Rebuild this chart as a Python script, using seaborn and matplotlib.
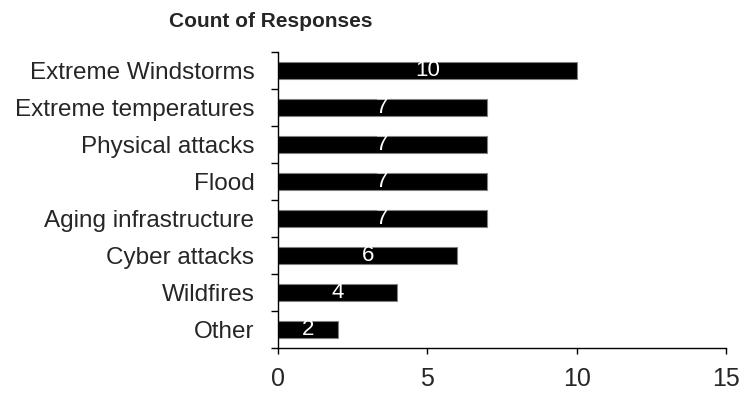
import numpy as np
import pandas as pd
import matplotlib
matplotlib.use('Agg')
import matplotlib.pyplot as plt
import seaborn as sns

# data
categories = ['Extreme Windstorms', 'Extreme temperatures', 'Physical attacks', 'Flood',
              'Aging infrastructure', 'Cyber attacks', 'Wildfires', 'Other']
counts = [10, 7, 7, 7, 7, 6, 4, 2]
x_ticks = [0, 5, 10, 15]

sns.set_style('white')
plt.rcParams['font.family'] = ['Liberation Sans', 'DejaVu Sans']

df = pd.DataFrame({'category': categories, 'count': counts})

fig = plt.figure(figsize=(7.45, 3.94), dpi=100)
ax = fig.add_axes([0.373, 0.117, 0.602, 0.751])

sns.barplot(data=df, x='count', y='category', orient='h', color='black',
            edgecolor='#808080', linewidth=0.8, width=0.44, saturation=1, ax=ax)

# white labels in the middle of each bar
for c in ax.containers:
    ax.bar_label(c, labels=[str(v) for v in counts], label_type='center',
                 color='white', fontsize=16)

ax.set_xlim(0, 15)
ax.set_xticks(x_ticks)
ax.set_ylim(len(categories) - 0.5, -0.5)
ax.set_xlabel('')
ax.set_ylabel('')

# tick marks between categories, like the original
ax.set_yticks(np.arange(-0.5, len(categories), 1), minor=True)
ax.tick_params(axis='y', which='major', length=0, labelsize=17.5, pad=17)
ax.tick_params(axis='y', which='minor', length=5, width=1, color='black', direction='out', left=True)
ax.tick_params(axis='x', which='major', length=4, width=1, color='black', direction='out',
               labelsize=18, pad=10, bottom=True)

sns.despine(ax=ax, top=True, right=True)
for s in ['left', 'bottom']:
    ax.spines[s].set_color('black')
    ax.spines[s].set_linewidth(1)

fig.text(0.364, 0.945, 'Count of Responses', ha='center', va='center',
         fontsize=15, fontweight='bold')

fig.savefig('out.png', dpi=100)
